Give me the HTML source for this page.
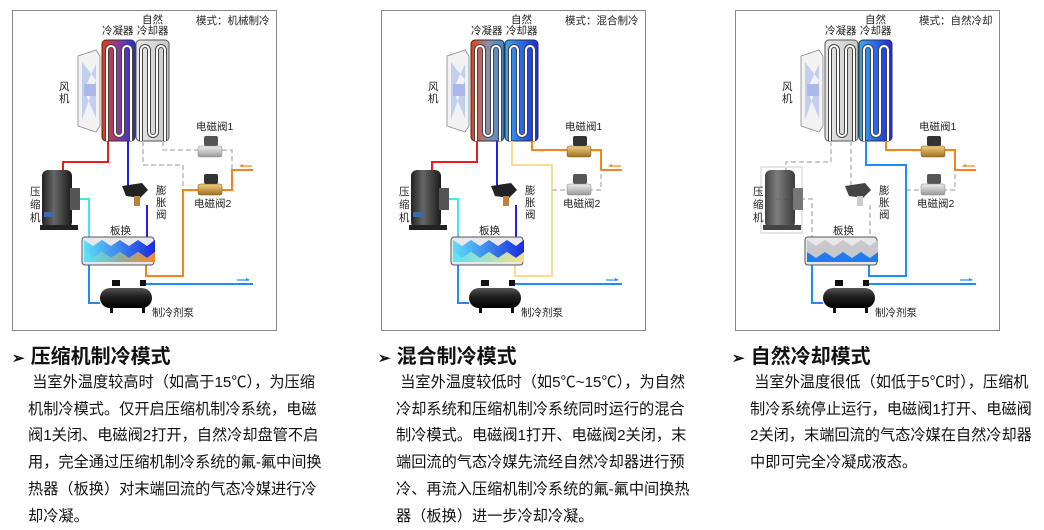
<!DOCTYPE html>
<html><head><meta charset="utf-8">
<style>
html,body{margin:0;padding:0;background:#fff;}
body{width:1044px;height:526px;position:relative;overflow:hidden;font-family:"Liberation Sans","Noto Sans CJK SC",sans-serif;}
.t{position:absolute;font-weight:bold;font-size:20px;color:#111;white-space:nowrap;}
.t span{font-size:15px;margin-right:6px;}
.b{position:absolute;font-size:15.2px;line-height:26.7px;color:#111;white-space:nowrap;}
svg text{font-family:"Liberation Sans","Noto Sans CJK SC",sans-serif;font-size:10.5px;fill:#222;}
</style></head><body>
<svg width="1044" height="340" style="position:absolute;left:0;top:0">
<defs>
<linearGradient id="cond1" x1="0" x2="1"><stop offset="0" stop-color="#f03a10"/><stop offset="0.5" stop-color="#8a3a9a"/><stop offset="1" stop-color="#1e2ee8"/></linearGradient>
<linearGradient id="cond2" x1="0" x2="1"><stop offset="0" stop-color="#f03a10"/><stop offset="0.5" stop-color="#8a8ea8"/><stop offset="1" stop-color="#3a8ad8"/></linearGradient>
<linearGradient id="cool2" x1="0" x2="1"><stop offset="0" stop-color="#3aa8f0"/><stop offset="1" stop-color="#1a2ae0"/></linearGradient>
<linearGradient id="grayc" x1="0" x2="1"><stop offset="0" stop-color="#e8e8e8"/><stop offset="1" stop-color="#c8c8c8"/></linearGradient>
<linearGradient id="top" x1="0" x2="1"><stop offset="0" stop-color="#5ee0f8"/><stop offset="1" stop-color="#1a2ae0"/></linearGradient>
<linearGradient id="bot1" x1="0" x2="1"><stop offset="0" stop-color="#5ee0f8"/><stop offset="0.5" stop-color="#8cb0a0"/><stop offset="1" stop-color="#f58a20"/></linearGradient>
<linearGradient id="bot2" x1="0" x2="1"><stop offset="0" stop-color="#5ee0f8"/><stop offset="1" stop-color="#f6e08a"/></linearGradient>
<linearGradient id="pump" x1="0" y1="0" x2="0" y2="1"><stop offset="0" stop-color="#555"/><stop offset="0.4" stop-color="#222"/><stop offset="1" stop-color="#000"/></linearGradient>
<linearGradient id="comp" x1="0" x2="1"><stop offset="0" stop-color="#222"/><stop offset="0.4" stop-color="#666"/><stop offset="1" stop-color="#1a1a1a"/></linearGradient>
<linearGradient id="brass" x1="0" y1="0" x2="0" y2="1"><stop offset="0" stop-color="#f0d080"/><stop offset="1" stop-color="#a07020"/></linearGradient>
<linearGradient id="silver" x1="0" y1="0" x2="0" y2="1"><stop offset="0" stop-color="#eee"/><stop offset="1" stop-color="#999"/></linearGradient>
<g id="coil"><path d="M5,101 V10 a4,4 0 0 1 8,0 V92 a4,4 0 0 0 8,0 V10 a4,4 0 0 1 8,0 V101" fill="none" stroke="#444" stroke-width="4"/><path d="M5,101 V10 a4,4 0 0 1 8,0 V92 a4,4 0 0 0 8,0 V10 a4,4 0 0 1 8,0 V101" fill="none" stroke="#fff" stroke-width="2"/></g>
<g id="fan"><path d="M78,56 L96,50 L100,56 V126 L96,132 L78,126 Z" fill="#f2f2f2" stroke="#888" stroke-width="0.8"/><path d="M82,62 L96,80 L82,120 Z M96,64 L84,90 L96,118 Z" fill="#b8c4ec" opacity="0.8"/><rect x="84" y="84" width="12" height="12" fill="#aab8ea"/></g>
<g id="valve"><rect x="6" y="0" width="14" height="10" rx="2" fill="#333"/><rect x="0" y="10" width="24" height="11" rx="2" fill="url(#brass)" stroke="#7a5a20" stroke-width="0.5"/></g>
<g id="valveg"><rect x="6" y="0" width="14" height="10" rx="2" fill="#555"/><rect x="0" y="10" width="24" height="11" rx="2" fill="url(#silver)" stroke="#888" stroke-width="0.5"/></g>
<g id="pumpg"><rect x="112" y="280" width="8" height="6" fill="#111"/><rect x="140" y="280" width="6" height="6" fill="#111"/><rect x="100" y="288" width="52" height="20" rx="10" fill="url(#pump)"/><rect x="110" y="307" width="3" height="6" fill="#111"/><rect x="142" y="307" width="3" height="6" fill="#111"/></g>
<g id="plateframe"><rect x="82" y="237" width="72" height="28" rx="3" fill="#e8e8ec" stroke="#555" stroke-width="1"/></g>
</defs>

<g>
<rect x="12.5" y="10.5" width="264" height="320" fill="#fff" stroke="#888" stroke-width="1"/>
<text x="102" y="34">冷凝器</text><text x="142" y="23">自然</text><text x="137" y="34">冷却器</text>
<text x="196" y="24">模式：机械制冷</text>
<use href="#fan"/>
<text x="59" y="90">风</text><text x="59" y="102">机</text>
<rect x="102" y="40" width="33" height="101" rx="4" fill="url(#cond1)" stroke="#333"/>
<use href="#coil" x="102" y="40"/>
<rect x="136" y="40" width="33" height="101" rx="4" fill="url(#grayc)" stroke="#555"/>
<use href="#coil" x="136" y="40"/>
<path d="M108,141 V162 H63 V175" fill="none" stroke="#e81e1e" stroke-width="2"/>
<path d="M128,141 V188" fill="none" stroke="#2020e8" stroke-width="2"/>
<path d="M147,205 V241" fill="none" stroke="#2020e8" stroke-width="2"/>
<path d="M53,199 H89 V241" fill="none" stroke="#40e4f4" stroke-width="2"/>
<path d="M89,265 V303 H100" fill="none" stroke="#1e8cff" stroke-width="2"/>
<path d="M142,284 H253" fill="none" stroke="#1e8cff" stroke-width="2"/>
<path d="M237,280 H249" stroke="#1e8cff" stroke-width="1.2"/><path d="M246,278 L250,280 L246,281Z" fill="#1e8cff"/>
<path d="M146,265 V276 H183 V190 H198 M219,190 H232 V170 H253" fill="none" stroke="#f5821f" stroke-width="2"/>
<path d="M252,166 H240" stroke="#f5821f" stroke-width="1.2"/><path d="M243,164 L239,166 L243,167Z" fill="#f5821f"/>
<path d="M143,141 V165 H183 V188 M163,141 V150 H198 M222,150 H232 V170" fill="none" stroke="#bbb" stroke-width="1.5" stroke-dasharray="5,3"/>
<rect x="42" y="170" width="30" height="58" rx="6" fill="url(#comp)"/>
<rect x="70" y="188" width="10" height="22" fill="#555"/>
<rect x="40" y="225" width="38" height="5" fill="#222"/>
<rect x="44" y="212" width="10" height="5" fill="#3a6ab0"/>
<text x="30" y="195">压</text><text x="30" y="208">缩</text><text x="30" y="221">机</text>
<path d="M122,186 L142,183 L148,190 L140,198 L126,196Z" fill="#222"/><rect x="134" y="196" width="6" height="10" fill="#c08040"/>
<text x="156" y="194">膨</text><text x="156" y="206">胀</text><text x="156" y="218">阀</text>
<use href="#valveg" x="198" y="136"/><use href="#valve" x="198" y="174"/>
<text x="196" y="130">电磁阀1</text><text x="194" y="207">电磁阀2</text>
<text x="110" y="234">板换</text>
<use href="#plateframe"/>
<path d="M84,240 l9,6 l9,-6 l9,6 l9,-6 l9,6 l9,-6 l9,6 l8,-6 V252 l-8,6 l-9,-6 l-9,6 l-9,-6 l-9,6 l-9,-6 l-9,6 l-9,-6 Z" fill="url(#top)"/>
<path d="M84,252 l9,6 l9,-6 l9,6 l9,-6 l9,6 l9,-6 l9,6 l8,-6 V262 H84 Z" fill="url(#bot1)"/>
<use href="#pumpg"/>
<text x="152" y="316">制冷剂泵</text>
</g>

<g transform="translate(369,0)">
<rect x="12.5" y="10.5" width="264" height="320" fill="#fff" stroke="#888" stroke-width="1"/>
<text x="102" y="34">冷凝器</text><text x="142" y="23">自然</text><text x="137" y="34">冷却器</text>
<text x="196" y="24">模式：混合制冷</text>
<use href="#fan"/>
<text x="59" y="90">风</text><text x="59" y="102">机</text>
<rect x="102" y="40" width="33" height="101" rx="4" fill="url(#cond2)" stroke="#333"/>
<use href="#coil" x="102" y="40"/>
<rect x="136" y="40" width="33" height="101" rx="4" fill="url(#cool2)" stroke="#333"/>
<use href="#coil" x="136" y="40"/>
<path d="M108,141 V162 H63 V175" fill="none" stroke="#e81e1e" stroke-width="2"/>
<path d="M128,141 V188" fill="none" stroke="#2020e8" stroke-width="2"/>
<path d="M147,205 V241" fill="none" stroke="#2020e8" stroke-width="2"/>
<path d="M53,199 H89 V241" fill="none" stroke="#40e4f4" stroke-width="2"/>
<path d="M89,265 V303 H100" fill="none" stroke="#1e8cff" stroke-width="2"/>
<path d="M142,284 H253" fill="none" stroke="#1e8cff" stroke-width="2"/>
<path d="M237,280 H249" stroke="#1e8cff" stroke-width="1.2"/><path d="M246,278 L250,280 L246,281Z" fill="#1e8cff"/>
<path d="M143,141 V165 H183 V276 H146 V265" fill="none" stroke="#f8dc90" stroke-width="2"/>
<path d="M163,141 V150 H198 M222,150 H232 V170 H253" fill="none" stroke="#f5821f" stroke-width="2"/>
<path d="M252,166 H240" stroke="#f5821f" stroke-width="1.2"/><path d="M243,164 L239,166 L243,167Z" fill="#f5821f"/>
<path d="M183,190 H198 M219,190 H232 V170" fill="none" stroke="#bbb" stroke-width="1.5" stroke-dasharray="5,3"/>
<rect x="42" y="170" width="30" height="58" rx="6" fill="url(#comp)"/>
<rect x="70" y="188" width="10" height="22" fill="#555"/>
<rect x="40" y="225" width="38" height="5" fill="#222"/>
<rect x="44" y="212" width="10" height="5" fill="#3a6ab0"/>
<text x="30" y="195">压</text><text x="30" y="208">缩</text><text x="30" y="221">机</text>
<path d="M122,186 L142,183 L148,190 L140,198 L126,196Z" fill="#222"/><rect x="134" y="196" width="6" height="10" fill="#c08040"/>
<text x="156" y="194">膨</text><text x="156" y="206">胀</text><text x="156" y="218">阀</text>
<use href="#valve" x="198" y="136"/><use href="#valveg" x="198" y="174"/>
<text x="196" y="130">电磁阀1</text><text x="194" y="207">电磁阀2</text>
<text x="110" y="234">板换</text>
<use href="#plateframe"/>
<path d="M84,240 l9,6 l9,-6 l9,6 l9,-6 l9,6 l9,-6 l9,6 l8,-6 V252 l-8,6 l-9,-6 l-9,6 l-9,-6 l-9,6 l-9,-6 l-9,6 l-9,-6 Z" fill="url(#top)"/>
<path d="M84,252 l9,6 l9,-6 l9,6 l9,-6 l9,6 l9,-6 l9,6 l8,-6 V262 H84 Z" fill="url(#bot2)"/>
<use href="#pumpg"/>
<text x="152" y="316">制冷剂泵</text>
</g>

<g transform="translate(723,0)">
<rect x="12.5" y="10.5" width="264" height="320" fill="#fff" stroke="#888" stroke-width="1"/>
<text x="102" y="34">冷凝器</text><text x="142" y="23">自然</text><text x="137" y="34">冷却器</text>
<text x="196" y="24">模式：自然冷却</text>
<use href="#fan"/>
<text x="59" y="90">风</text><text x="59" y="102">机</text>
<rect x="102" y="40" width="33" height="101" rx="4" fill="url(#grayc)" stroke="#555"/>
<use href="#coil" x="102" y="40"/>
<rect x="136" y="40" width="33" height="101" rx="4" fill="url(#cool2)" stroke="#333"/>
<use href="#coil" x="136" y="40"/>
<path d="M108,141 V162 H63 V175 M128,141 V188 M147,205 V241 M53,199 H89 V241 M183,190 H198 M219,190 H232 V170" fill="none" stroke="#bbb" stroke-width="1.5" stroke-dasharray="5,3"/>
<path d="M89,265 V303 H100" fill="none" stroke="#1e8cff" stroke-width="2"/>
<path d="M142,284 H253" fill="none" stroke="#1e8cff" stroke-width="2"/>
<path d="M237,280 H249" stroke="#1e8cff" stroke-width="1.2"/><path d="M246,278 L250,280 L246,281Z" fill="#1e8cff"/>
<path d="M143,141 V165 H183 V276 H146 V265" fill="none" stroke="#1e8cff" stroke-width="2"/>
<path d="M163,141 V150 H198 M222,150 H232 V170 H253" fill="none" stroke="#f5821f" stroke-width="2"/>
<path d="M252,166 H240" stroke="#f5821f" stroke-width="1.2"/><path d="M243,164 L239,166 L243,167Z" fill="#f5821f"/>
<rect x="38" y="167" width="41" height="66" fill="none" stroke="#ccc"/>
<rect x="42" y="170" width="30" height="58" rx="6" fill="url(#comp)" opacity="0.85"/>
<rect x="70" y="188" width="10" height="22" fill="#777"/>
<rect x="40" y="225" width="38" height="5" fill="#444"/>
<text x="30" y="195">压</text><text x="30" y="208">缩</text><text x="30" y="221">机</text>
<path d="M122,186 L142,183 L148,190 L140,198 L126,196Z" fill="#444"/><rect x="134" y="196" width="6" height="10" fill="#ccc"/>
<text x="156" y="194">膨</text><text x="156" y="206">胀</text><text x="156" y="218">阀</text>
<use href="#valve" x="198" y="136"/><use href="#valveg" x="198" y="174"/>
<text x="196" y="130">电磁阀1</text><text x="194" y="207">电磁阀2</text>
<text x="110" y="234">板换</text>
<use href="#plateframe"/>
<path d="M84,240 l9,6 l9,-6 l9,6 l9,-6 l9,6 l9,-6 l9,6 l8,-6 V252 l-8,6 l-9,-6 l-9,6 l-9,-6 l-9,6 l-9,-6 l-9,6 l-9,-6 Z" fill="#c8c8cc"/>
<path d="M84,252 l9,6 l9,-6 l9,6 l9,-6 l9,6 l9,-6 l9,6 l8,-6 V262 H84 Z" fill="#1e7cf0"/>
<use href="#pumpg"/>
<text x="152" y="316">制冷剂泵</text>
</g>
</svg>

<div class="t" style="left:12px;top:340px"><span>➢</span>压缩机制冷模式</div>
<div class="b" style="left:28px;top:370px">&nbsp;当室外温度较高时（如高于15℃），为压缩<br>机制冷模式。仅开启压缩机制冷系统，电磁<br>阀1关闭、电磁阀2打开，自然冷却盘管不启<br>用，完全通过压缩机制冷系统的氟-氟中间换<br>热器（板换）对末端回流的气态冷媒进行冷<br>却冷凝。</div>

<div class="t" style="left:378px;top:340px"><span>➢</span>混合制冷模式</div>
<div class="b" style="left:396px;top:370px">&nbsp;当室外温度较低时（如5℃~15℃），为自然<br>冷却系统和压缩机制冷系统同时运行的混合<br>制冷模式。电磁阀1打开、电磁阀2关闭，末<br>端回流的气态冷媒先流经自然冷却器进行预<br>冷、再流入压缩机制冷系统的氟-氟中间换热<br>器（板换）进一步冷却冷凝。</div>

<div class="t" style="left:732px;top:340px"><span>➢</span>自然冷却模式</div>
<div class="b" style="left:750px;top:370px">&nbsp;当室外温度很低（如低于5℃时），压缩机<br>制冷系统停止运行，电磁阀1打开、电磁阀<br>2关闭，末端回流的气态冷媒在自然冷却器<br>中即可完全冷凝成液态。</div>
</body></html>
